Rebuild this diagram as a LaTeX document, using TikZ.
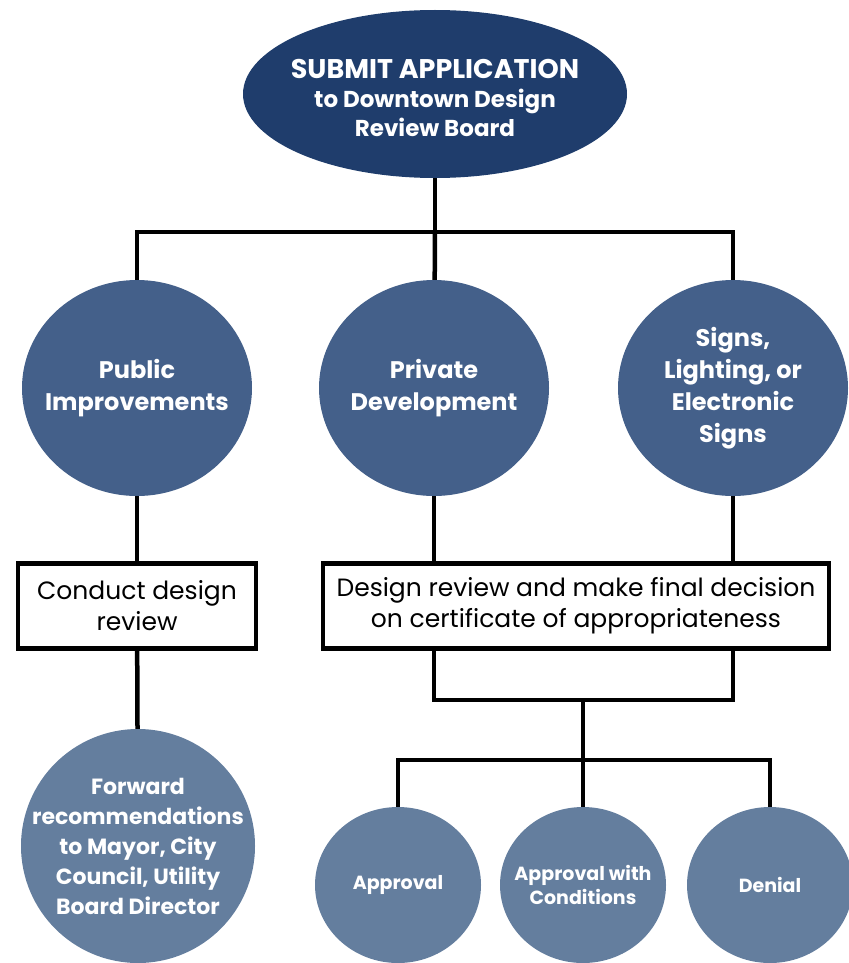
\documentclass[tikz,border=0pt]{standalone}
\usepackage{fontspec}
\setmainfont{Poppins}
\usetikzlibrary{shapes.geometric}
\begin{document}
\begin{tikzpicture}[x=1pt,y=-1pt]
    % Define colours
    \definecolor{navyColour}{HTML}{1F3D6C}
    \definecolor{midColour}{HTML}{44608A}
    \definecolor{lightColour}{HTML}{647E9E}

    % Define styles
    \tikzset{
        link/.style={line width=4.5pt, black},
        blob/.style={ellipse, inner sep=0pt, draw=none},
        blobtext/.style={text=white, align=center, inner sep=0pt},
        stepbox/.style={draw=black, line width=4.5pt, fill=white, inner sep=0pt, align=center,
            font=\fontsize{25}{31}\selectfont}
    }

    \useasboundingbox (0,0) rectangle (848,963);

    % Top node
    \node[blob, fill=navyColour, minimum width=384, minimum height=168] (submit) at (435,94) {};
    \node[blobtext, font=\bfseries\fontsize{23}{29}\selectfont] (submit text) at (435,98)
        {{\fontsize{27}{29}\selectfont SUBMIT APPLICATION}\\to Downtown Design\\Review Board};

    % Application types
    \node[blob, fill=midColour, minimum width=230, minimum height=216] (public) at (137,388) {};
    \node[blob, fill=midColour, minimum width=230, minimum height=216] (private) at (434,388) {};
    \node[blob, fill=midColour, minimum width=230, minimum height=216] (signs) at (733,388) {};
    \node[blobtext, font=\bfseries\fontsize{24}{32}\selectfont] (public text) at (public) {Public\\Improvements};
    \node[blobtext, font=\bfseries\fontsize{24}{32}\selectfont] (private text) at (private) {Private\\Development};
    \node[blobtext, font=\bfseries\fontsize{24}{32}\selectfont] (signs text) at (signs) {Signs,\\Lighting, or\\Electronic\\Signs};

    % Review boxes
    \node[stepbox, minimum width=238, minimum height=85] (conduct) at (137,606) {Conduct design\\review};
    \node[stepbox, minimum width=506, minimum height=85] (decision) at (576,606)
        {Design review and make final decision\\on certificate of appropriateness};

    % Outcomes
    \node[blob, fill=lightColour, minimum width=234, minimum height=234] (forward) at (138,846) {};
    \node[blob, fill=lightColour, minimum width=166, minimum height=156] (approval) at (398,885) {};
    \node[blob, fill=lightColour, minimum width=166, minimum height=156] (conditions) at (583,885) {};
    \node[blob, fill=lightColour, minimum width=166, minimum height=156] (denial) at (770,885) {};
    \node[blobtext, font=\bfseries\fontsize{22}{30}\selectfont] (forward text) at (forward)
        {Forward\\recommendations\\to Mayor, City\\Council, Utility\\Board Director};
    \node[blobtext, font=\bfseries\fontsize{19}{24}\selectfont] (approval text) at (approval) {Approval};
    \node[blobtext, font=\bfseries\fontsize{19}{24}\selectfont] (conditions text) at (conditions) {Approval with\\Conditions};
    \node[blobtext, font=\bfseries\fontsize{19}{24}\selectfont] (denial text) at (denial) {Denial};

    % Junction points
    \coordinate (split) at (435,232);
    \coordinate (merge) at (583,700);
    \coordinate (fan) at (583,760);

    % Connectors
    \draw[link] (submit) -- (split);
    \draw[link] (public) |- (split) -| (signs);
    \draw[link] (split) -- (private);
    \draw[link] (public) -- (conduct);
    \draw[link] (private) -- (decision.north -| private);
    \draw[link] (signs) -- (decision.north -| signs);
    \draw[link] (conduct) -- (forward);
    \draw[link] (decision.south -| private) |- (merge) -| (decision.south -| signs);
    \draw[link] (merge) -- (fan);
    \draw[link] (approval) |- (fan) -| (denial);
    \draw[link] (fan) -- (conditions);

\end{tikzpicture}
\end{document}
